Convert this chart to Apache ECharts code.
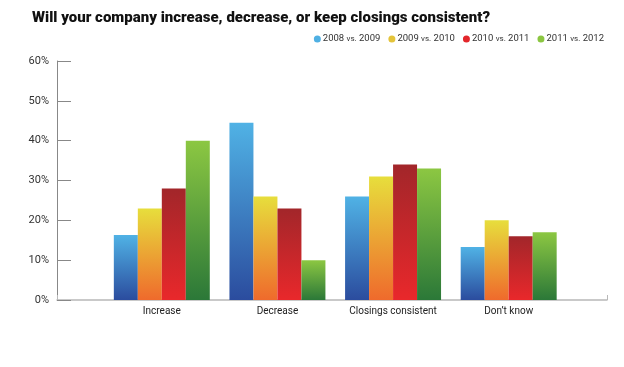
<!DOCTYPE html>
<html>
<head>
<meta charset="utf-8">
<script src="https://cdn.jsdelivr.net/npm/echarts@6/dist/echarts.min.js"></script>
<style>
html,body{margin:0;padding:0;background:#fff;}
#chart{width:624px;height:367px;}
</style>
</head>
<body>
<div id="chart"></div>
<script>
var title = 'Will your company increase, decrease, or keep closings consistent?';
var categories = ['Increase', 'Decrease', 'Closings consistent', "Don\u2019t know"];
var seriesNames = ['2008 vs. 2009', '2009 vs. 2010', '2010 vs. 2011', '2011 vs. 2012'];
var s2008 = [16.3, 44.5, 26, 13.3];
var s2009 = [23, 26, 31, 20];
var s2010 = [28, 23, 34, 16];
var s2011 = [40, 10, 33, 17];
var yTicks = [0, 10, 20, 30, 40, 50, 60];

var values = [s2008, s2009, s2010, s2011];
var gradients = [
  ['#50b2e5', '#2b4c9e'],
  ['#e7de3c', '#ef6a2c'],
  ['#a2262a', '#e9282b'],
  ['#8cc742', '#2b7838']
];
var legendColors = ['#4fb0e3', '#e4c43a', '#e3262b', '#8bc641'];

function grad(c) {
  return new echarts.graphic.LinearGradient(0, 0, 0, 1, [
    {offset: 0, color: c[0]}, {offset: 1, color: c[1]}
  ]);
}

var chart = echarts.init(document.getElementById('chart'), null, {renderer: 'canvas'});
var font = 'Roboto, "Liberation Sans", sans-serif';
chart.setOption({
  animation: false,
  backgroundColor: '#ffffff',
  title: {
    text: title,
    left: 27, top: 6,
    textStyle: {fontFamily: font, fontSize: 15, fontWeight: 900, color: '#111'}
  },
  legend: {
    right: 15, top: 29,
    icon: 'circle', itemWidth: 7, itemHeight: 7, itemGap: 8,
    formatter: function (n) { return n.replace(' vs. ', ' {s|vs.} '); },
    textStyle: {
      fontFamily: font, fontSize: 9.5, color: '#333', padding: [0, 0, 0, -3],
      rich: {s: {fontFamily: font, fontSize: 8, color: '#333'}}
    },
    data: seriesNames.map(function (n, i) { return {name: n, itemStyle: {color: legendColors[i]}}; })
  },
  grid: [
    {left: 57, right: 17, top: 61, bottom: 67},
    {left: 104, right: 57.5, top: 61, bottom: 67}
  ],
  xAxis: [
    {
      gridIndex: 0, type: 'value', min: 0, max: 1, interval: 1,
      axisLine: {show: true, lineStyle: {color: '#b8b8b8', width: 1.5}},
      axisTick: {show: true, inside: true, length: 5, lineStyle: {color: '#b8b8b8'}},
      axisLabel: {show: false}, splitLine: {show: false}
    },
    {
      gridIndex: 1, type: 'category', data: categories,
      axisLine: {show: false}, axisTick: {show: false},
      axisLabel: {fontFamily: font, fontSize: 10, color: '#222', margin: 6}
    }
  ],
  yAxis: [
    {
      gridIndex: 0, type: 'value', min: yTicks[0], max: yTicks[yTicks.length - 1], interval: 10,
      axisLine: {show: true, lineStyle: {color: '#888', width: 1}},
      axisTick: {show: true, inside: true, length: 14, lineStyle: {color: '#888'}},
      axisLabel: {fontFamily: font, fontSize: 11, color: '#333', margin: 8, formatter: '{value}%'},
      splitLine: {show: false}
    },
    {
      gridIndex: 1, type: 'value', min: yTicks[0], max: yTicks[yTicks.length - 1], show: false
    }
  ],
  series: values.map(function (v, i) {
    return {
      name: seriesNames[i], type: 'bar', xAxisIndex: 1, yAxisIndex: 1,
      data: v, barGap: 0, barCategoryGap: '17%',
      itemStyle: {color: grad(gradients[i])}
    };
  })
});
</script>
</body>
</html>
